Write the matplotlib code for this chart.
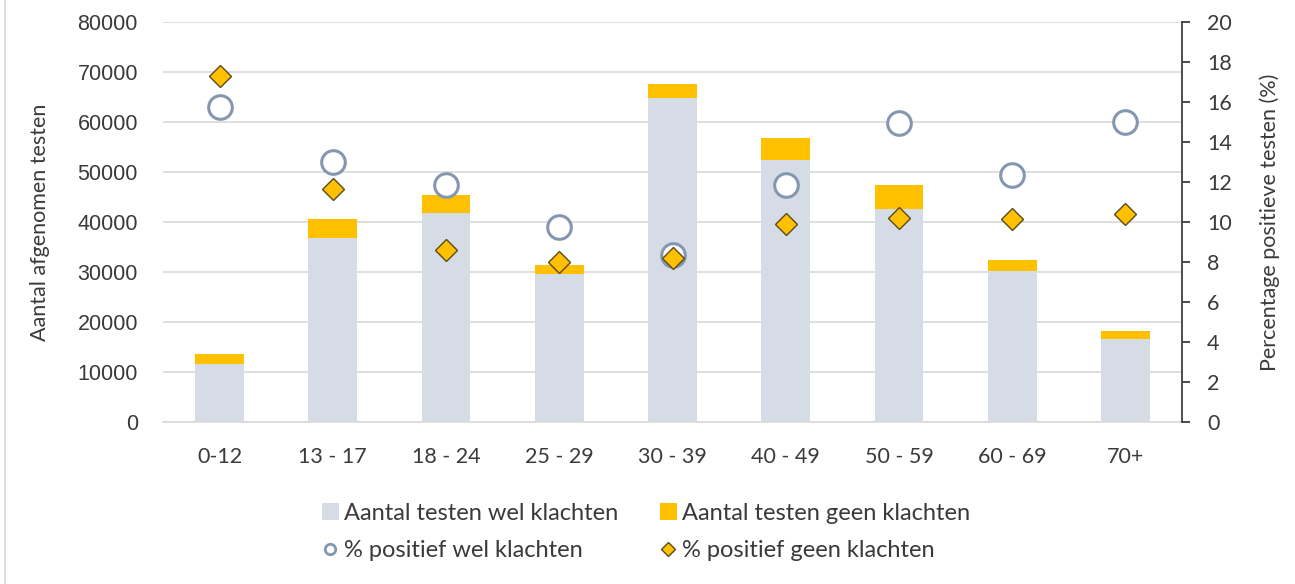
import matplotlib
matplotlib.use("Agg")
import matplotlib.pyplot as plt
import numpy as np

plt.rcParams['font.family'] = ['Lato', 'DejaVu Sans']

categories = ["0-12", "13 - 17", "18 - 24", "25 - 29", "30 - 39", "40 - 49", "50 - 59", "60 - 69", "70+"]
testen_wel = [11700, 36800, 41800, 29700, 64900, 52500, 42700, 30200, 16700]
testen_totaal = [13700, 40700, 45500, 31400, 67700, 56800, 47500, 32400, 18300]
testen_geen = [t - w for t, w in zip(testen_totaal, testen_wel)]
pct_wel = [15.73, 13.0, 11.83, 9.73, 8.33, 11.83, 14.97, 12.33, 15.0]
pct_geen = [17.28, 11.65, 8.58, 8.0, 8.18, 9.92, 10.22, 10.13, 10.42]

grey = "#D6DCE5"
yellow = "#FFC000"
circ_edge = "#8497B0"
txt = "#3a3a3a"

W, H = 1295, 584
fig = plt.figure(figsize=(W / 100, H / 100), dpi=100)
ax = fig.add_axes([163 / W, 1 - 422 / H, (1182 - 163) / W, 400 / H])
x = np.arange(len(categories))
w = 0.43
b1 = ax.bar(x, testen_wel, w, color=grey, zorder=2)
b2 = ax.bar(x, testen_geen, w, bottom=testen_wel, color=yellow, zorder=2)
ax.set_ylim(0, 80000)
ax.set_xlim(-0.5, len(categories) - 0.5)
ax.set_yticks(np.arange(0, 80001, 10000))
ax.yaxis.grid(True, color="#D9D9D9", linewidth=1.2, zorder=0)
ax.set_axisbelow(True)
for s in ["left", "top", "right"]:
    ax.spines[s].set_visible(False)
ax.spines["bottom"].set_color("#D9D9D9")
ax.spines["bottom"].set_linewidth(1.2)
ax.tick_params(axis="y", length=0, labelsize=15.5, colors=txt, pad=18)
for lab in ax.get_yticklabels():
    lab.set_fontfamily(['Liberation Sans', 'DejaVu Sans'])
ax.tick_params(axis="x", length=0, labelsize=15.5, colors=txt, pad=18)
ax.set_xticks(x)
ax.set_xticklabels(categories)
ax.set_ylabel("Aantal afgenomen testen", fontsize=15.5, color=txt, labelpad=20)

ax2 = ax.twinx()
ax2.set_ylim(0, 20)
ax2.set_yticks(np.arange(0, 21, 2))
for s in ["left", "top", "bottom"]:
    ax2.spines[s].set_visible(False)
ax2.spines["right"].set_color("#404040")
ax2.spines["right"].set_linewidth(1.3)
ax2.tick_params(axis="y", direction="out", length=6, width=1.3, labelsize=15.5, colors=txt, pad=12)
ax2.set_ylabel("Percentage positieve testen (%)", fontsize=15.5, color=txt, labelpad=20)
ax2.plot(x, pct_wel, linestyle="none", marker="o", markersize=17, markerfacecolor="white",
         markeredgecolor=circ_edge, markeredgewidth=2.2, zorder=3)
ax2.plot(x, pct_geen, linestyle="none", marker="D", markersize=11, markerfacecolor=yellow,
         markeredgecolor="#5a4a20", markeredgewidth=1, zorder=4)

h_c = plt.Line2D([], [], linestyle="none", marker="o", markersize=7.5, markerfacecolor="white",
                 markeredgecolor=circ_edge, markeredgewidth=2)
h_d = plt.Line2D([], [], linestyle="none", marker="D", markersize=7, markerfacecolor=yellow,
                 markeredgecolor="#5a4a20", markeredgewidth=1)
common = dict(loc="center left", frameon=False, fontsize=17, handlelength=0.7, handleheight=0.7,
              handletextpad=0.25, labelspacing=0.7, labelcolor=txt, borderpad=0, borderaxespad=0)
leg1 = fig.legend([b1, h_c], ["Aantal testen wel klachten", "% positief wel klachten"],
                  bbox_to_anchor=(322 / W, 1 - 532 / H), **common)
leg2 = fig.legend([b2, h_d], ["Aantal testen geen klachten", "% positief geen klachten"],
                  bbox_to_anchor=(660 / W, 1 - 532 / H), **common)

fig.add_artist(plt.Line2D([4.5 / W, 4.5 / W], [0, 1], transform=fig.transFigure,
                          color="#D9D9D9", linewidth=1.2))

fig.savefig("out.png", dpi=100)
